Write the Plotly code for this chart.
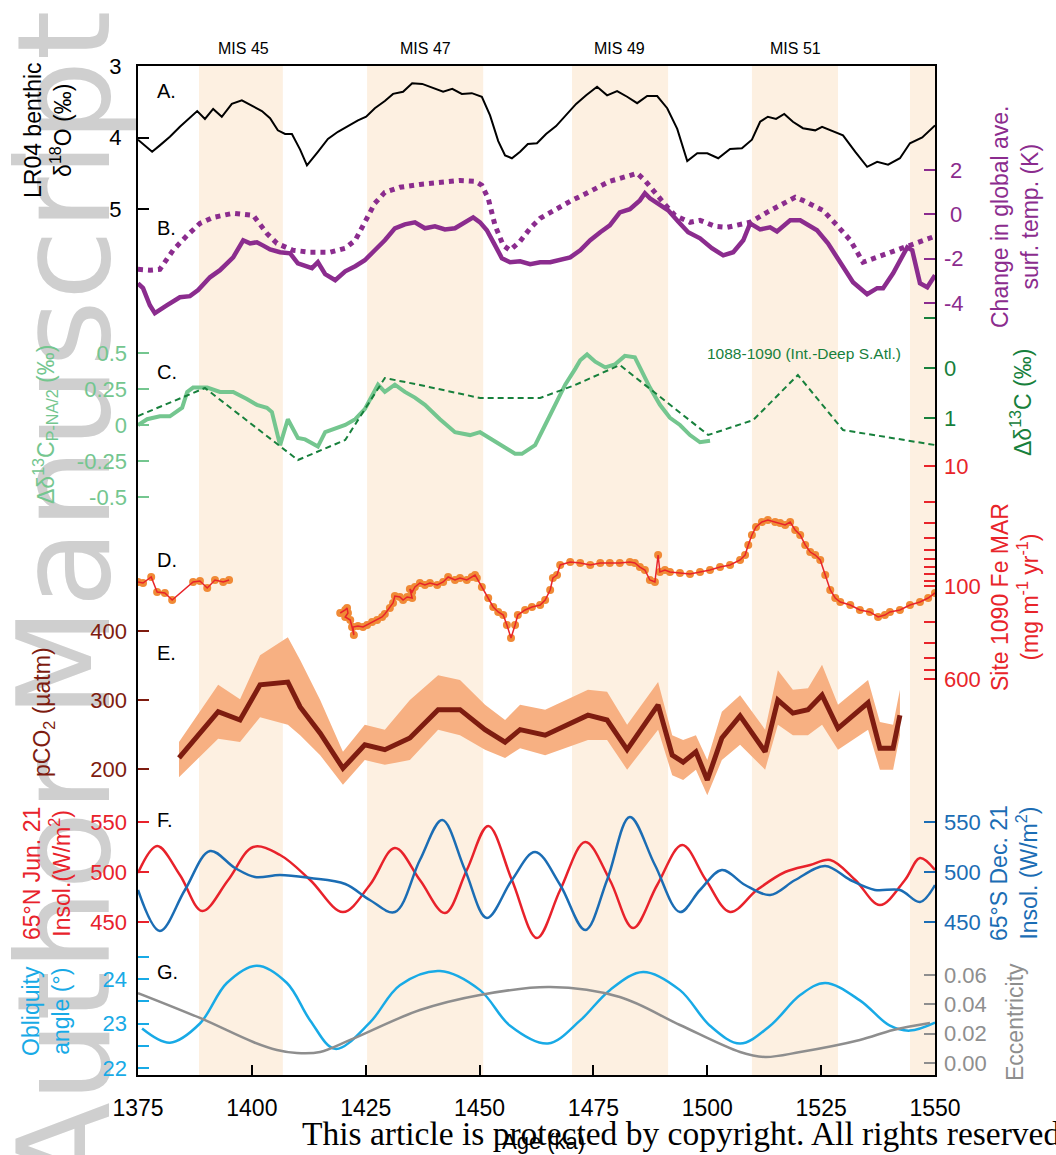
import plotly.graph_objects as go

SANS = "Liberation Sans, Arial, sans-serif"
SERIF = "Liberation Serif, Times New Roman, serif"

# ---------------- data ----------------
age_ticks = [1375, 1400, 1425, 1450, 1475, 1500, 1525, 1550]

# interglacial stages (ka)
mis_start = [1388.4, 1425.3, 1470.3, 1509.8, 1544.5]
mis_end = [1406.8, 1450.8, 1491.4, 1528.7, 1550.0]
mis_names = ["MIS 45", "MIS 47", "MIS 49", "MIS 51"]
mis_name_age = [1398.1, 1438.2, 1480.8, 1519.3]

# A. LR04 benthic d18O (permil)
lr04_age = [1375.0, 1378.1, 1379.8, 1382.0, 1384.2, 1386.4, 1388.0, 1389.7, 1391.5, 1393.4,
            1395.6, 1397.8, 1400.0, 1402.2, 1404.0, 1405.7, 1407.3, 1408.8, 1410.6, 1412.1,
            1414.5, 1416.7, 1418.9, 1421.1, 1423.3, 1425.1, 1427.0, 1429.2, 1431.0, 1433.2,
            1435.2, 1437.4, 1439.8, 1442.0, 1444.0, 1446.1, 1448.3, 1450.5, 1452.3, 1454.1,
            1455.6, 1457.1, 1458.9, 1460.6, 1462.6, 1464.6, 1466.8, 1469.0, 1471.2, 1473.4,
            1475.8, 1478.0, 1480.2, 1482.4, 1484.6, 1486.8, 1489.0, 1491.2, 1493.4, 1495.6,
            1497.8, 1500.0, 1502.4, 1505.0, 1507.6, 1509.8, 1511.6, 1513.3, 1515.1, 1516.9,
            1518.8, 1521.0, 1523.7, 1525.2, 1527.0, 1529.8, 1532.5, 1535.1, 1537.3, 1539.7,
            1542.3, 1544.5, 1547.2, 1550.0]
lr04_d18o = [4.03, 4.20, 4.11, 3.99, 3.85, 3.73, 3.63, 3.74, 3.60, 3.71,
             3.53, 3.48, 3.55, 3.63, 3.73, 3.90, 3.95, 3.95, 4.17, 4.39,
             4.20, 4.02, 3.92, 3.84, 3.76, 3.71, 3.59, 3.49, 3.39, 3.36,
             3.24, 3.25, 3.31, 3.36, 3.32, 3.39, 3.38, 3.43, 3.69, 4.05,
             4.25, 4.29, 4.20, 4.09, 4.08, 3.95, 3.84, 3.69, 3.53, 3.41,
             3.29, 3.41, 3.35, 3.43, 3.52, 3.42, 3.42, 3.59, 3.88, 4.33,
             4.22, 4.22, 4.29, 4.16, 4.15, 4.03, 3.78, 3.71, 3.74, 3.67,
             3.78, 3.87, 3.90, 3.85, 3.90, 3.97, 4.20, 4.41, 4.34, 4.38,
             4.29, 4.08, 4.00, 3.83]

# B. change in global average surface temperature (K)
gst_age = [1375.0, 1376.1, 1377.6, 1378.7, 1381.4, 1384.2, 1386.4, 1388.2, 1390.8, 1393.0,
           1395.9, 1398.1, 1399.6, 1401.1, 1402.4, 1404.0, 1406.2, 1408.4, 1410.1, 1411.7,
           1413.2, 1414.5, 1416.1, 1418.3, 1420.5, 1422.7, 1424.8, 1427.0, 1429.2, 1431.4,
           1433.6, 1435.8, 1438.0, 1440.2, 1442.4, 1444.6, 1446.8, 1448.6, 1450.1, 1451.6,
           1453.4, 1454.9, 1456.7, 1458.9, 1461.1, 1463.3, 1465.5, 1467.7, 1469.9, 1472.1,
           1474.3, 1476.5, 1478.6, 1480.8, 1483.0, 1485.2, 1486.3, 1487.4, 1489.6, 1491.4,
           1493.6, 1495.8, 1498.4, 1501.0, 1503.5, 1505.7, 1507.9, 1509.4, 1511.6, 1513.8,
           1515.3, 1518.2, 1520.4, 1522.1, 1524.1, 1526.5, 1529.2, 1532.0, 1535.1, 1537.3,
           1538.6, 1540.8, 1543.9, 1545.0, 1546.7, 1548.3, 1550.0]
gst_k = [-3.11, -3.33, -4.10, -4.46, -4.10, -3.74, -3.69, -3.42, -2.84, -2.52,
         -1.94, -1.17, -1.31, -1.26, -1.40, -1.58, -1.71, -1.76, -2.21, -2.30,
         -2.43, -2.16, -2.70, -2.97, -2.57, -2.34, -2.07, -1.62, -1.17, -0.63,
         -0.45, -0.36, -0.63, -0.54, -0.68, -0.63, -0.36, -0.14, -0.36, -0.72,
         -1.40, -1.98, -2.16, -2.12, -2.25, -2.16, -2.16, -2.07, -1.94, -1.62,
         -1.17, -0.81, -0.50, 0.09, 0.23, 0.63, 0.95, 0.72, 0.45, 0.18,
         -0.32, -0.81, -1.08, -1.53, -1.85, -1.71, -1.17, -0.41, -0.68, -0.59,
         -0.77, -0.27, -0.27, -0.50, -0.72, -1.31, -2.21, -3.06, -3.60, -3.33,
         -3.33, -2.66, -1.49, -1.62, -3.11, -3.29, -2.75]

gst2_age = [1375.0, 1377.6, 1379.8, 1382.7, 1385.8, 1388.6, 1391.5, 1395.9, 1400.3, 1401.8,
            1403.3, 1405.5, 1409.0, 1412.8, 1417.2, 1420.5, 1422.7, 1424.8, 1427.0, 1429.2,
            1432.5, 1436.9, 1441.3, 1445.7, 1449.0, 1450.5, 1451.9, 1453.4, 1455.2, 1456.7,
            1458.9, 1461.1, 1463.3, 1465.5, 1467.7, 1469.9, 1472.1, 1474.3, 1476.5, 1478.6,
            1480.8, 1483.0, 1484.6, 1486.3, 1488.5, 1490.7, 1492.9, 1496.2, 1498.4, 1501.7,
            1504.3, 1509.4, 1513.1, 1519.3, 1521.0, 1525.4, 1528.5, 1531.4, 1534.2, 1537.3,
            1542.3, 1546.1, 1550.0]
gst2_k = [-2.48, -2.52, -2.48, -1.62, -0.95, -0.41, -0.14, 0.05, -0.05, -0.50,
          -0.86, -1.31, -1.62, -1.71, -1.71, -1.53, -1.17, -0.36, 0.50, 0.99,
          1.22, 1.35, 1.44, 1.53, 1.49, 1.31, 0.72, -0.50, -1.40, -1.62,
          -1.22, -0.63, -0.18, 0.09, 0.36, 0.59, 0.81, 1.04, 1.26, 1.49,
          1.62, 1.76, 1.85, 1.53, 0.95, 0.45, -0.05, -0.36, -0.27, -0.54,
          -0.59, -0.36, 0.09, 0.77, 0.63, 0.18, -0.50, -1.17, -2.16, -1.94,
          -1.53, -1.31, -0.99]

# C. d13C gradients (permil)
dc_pna_age = [1375.0, 1377.0, 1379.8, 1382.0, 1384.7, 1385.8, 1387.1, 1390.2, 1393.0, 1395.9,
              1398.9, 1401.1, 1403.3, 1404.4, 1406.2, 1407.9, 1410.1, 1411.7, 1414.5, 1416.1,
              1420.5, 1422.7, 1424.8, 1427.7, 1429.2, 1431.4, 1433.6, 1435.8, 1438.0, 1441.3,
              1444.6, 1447.9, 1450.1, 1452.7, 1455.6, 1457.8, 1459.3, 1462.2, 1464.4, 1466.6,
              1468.8, 1471.0, 1472.1, 1473.6, 1475.4, 1477.6, 1479.7, 1481.9, 1484.1, 1485.2,
              1487.4, 1489.6, 1491.8, 1494.0, 1496.2, 1498.4, 1500.6]
dc_pna = [0.00, 0.04, 0.06, 0.06, 0.12, 0.23, 0.26, 0.26, 0.23, 0.23,
          0.18, 0.14, 0.12, 0.09, -0.14, 0.04, -0.09, -0.10, -0.15, -0.05,
          0.00, 0.04, 0.11, 0.28, 0.23, 0.28, 0.23, 0.19, 0.14, 0.04,
          -0.05, -0.07, -0.05, -0.10, -0.16, -0.20, -0.20, -0.14, 0.00, 0.14,
          0.28, 0.39, 0.45, 0.49, 0.44, 0.40, 0.42, 0.48, 0.47, 0.40,
          0.26, 0.14, 0.05, 0.00, -0.07, -0.12, -0.11]

dc_satl_age = [1375.0, 1389.7, 1410.1, 1420.5, 1429.2, 1436.9, 1450.1, 1463.3, 1471.0, 1480.8,
               1500.2, 1510.1, 1519.9, 1529.8, 1550.0]
dc_satl = [0.96, 0.40, 1.84, 1.44, 0.20, 0.34, 0.60, 0.60, 0.34, -0.06,
           1.34, 1.04, 0.14, 1.24, 1.54]

# D. Site 1090 Fe mass accumulation rate
fe1_age = [1375.0, 1376.1, 1377.9, 1379.2, 1380.9, 1382.5, 1387.1, 1388.6, 1390.2, 1391.9,
           1393.7, 1395.0]
fe1_mar = [92.6, 94.4, 84.1, 112.2, 114.3, 130.8, 92.6, 90.8, 103.9, 89.1,
           92.6, 89.1]
fe2_age = [1419.4, 1420.5, 1420.9, 1421.1, 1420.5, 1421.6, 1422.0, 1422.4, 1422.2, 1423.3,
           1424.4, 1425.3, 1426.4, 1427.5, 1428.6, 1429.2, 1430.3, 1431.0, 1431.4, 1432.5,
           1433.2, 1434.1, 1435.2, 1434.7, 1435.2, 1435.8, 1436.9, 1438.0, 1439.1, 1440.7,
           1442.0, 1443.1, 1444.6, 1445.7, 1447.2, 1448.3, 1449.0, 1449.4, 1450.5, 1451.9,
           1453.0, 1454.1, 1455.2, 1456.0, 1456.9, 1457.8, 1458.4, 1460.0, 1461.5, 1463.3,
           1464.4, 1465.5, 1466.1, 1467.0, 1467.7, 1469.9, 1472.1, 1474.3, 1476.5, 1478.6,
           1480.8, 1483.0, 1484.1, 1485.2, 1486.3, 1487.4, 1488.5, 1489.2, 1489.6, 1490.7,
           1491.8, 1494.0, 1496.2, 1498.4, 1500.6, 1502.8, 1505.0, 1507.2, 1508.3, 1509.0,
           1509.8, 1510.7, 1512.0, 1513.3, 1514.9, 1516.0, 1517.1, 1518.2, 1519.3, 1520.4,
           1521.5, 1522.6, 1523.7, 1524.8, 1525.9, 1527.0, 1528.1, 1529.2, 1531.4, 1533.5,
           1535.7, 1537.5, 1539.0, 1540.1, 1542.3, 1544.5, 1546.7, 1548.5, 1550.0]
fe2_mar = [167.9, 158.5, 152.5, 167.9, 181.3, 192.1, 219.6, 256.0, 219.6, 215.4,
           219.6, 211.3, 199.5, 192.1, 181.3, 171.1, 152.5, 138.6, 121.2, 123.5,
           130.8, 123.5, 125.9, 105.9, 112.2, 101.9, 94.4, 98.1, 94.4, 98.1,
           92.6, 84.1, 89.1, 85.8, 89.1, 84.1, 81.0, 85.8, 101.9, 125.9,
           149.6, 164.6, 174.5, 211.3, 271.2, 211.3, 174.5, 158.5, 149.6, 144.0,
           130.8, 108.0, 85.8, 81.0, 66.8, 63.1, 64.3, 66.8, 64.3, 64.3,
           64.3, 63.1, 64.3, 69.5, 73.6, 89.1, 92.6, 55.2, 76.4, 73.6,
           76.4, 77.9, 79.4, 76.4, 73.6, 69.5, 66.8, 60.7, 55.2, 45.5,
           37.6, 32.2, 29.3, 28.2, 29.3, 29.9, 31.0, 29.3, 34.1, 37.6,
           45.5, 52.1, 55.2, 60.7, 81.0, 108.0, 125.9, 135.9, 144.0, 158.5,
           164.6, 181.3, 174.5, 164.6, 158.5, 144.0, 135.9, 125.9, 114.3]

# E. pCO2 (uatm) with uncertainty envelope
co2_age = [1384.0, 1392.6, 1397.4, 1401.8, 1407.9, 1410.6, 1415.0, 1420.0, 1424.8, 1429.2,
           1434.7, 1440.9, 1445.7, 1451.2, 1455.6, 1458.9, 1464.4, 1473.8, 1478.0, 1482.4,
           1489.2, 1492.3, 1494.7, 1497.5, 1500.0, 1503.2, 1507.2, 1512.7, 1515.5, 1518.8,
           1522.1, 1525.2, 1528.7, 1535.3, 1537.9, 1540.8, 1542.3]
co2_mid = [216, 283, 271, 322, 326, 290, 252, 201, 235, 228,
           245, 286, 286, 257, 239, 257, 249, 278, 271, 228,
           293, 220, 210, 225, 184, 245, 277, 225, 300, 281,
           286, 307, 259, 296, 230, 230, 278]
co2_hi = [239, 322, 301, 365, 391, 358, 300, 225, 264, 257,
          300, 336, 329, 293, 271, 293, 286, 315, 312, 264,
          326, 249, 242, 249, 213, 283, 307, 257, 343, 315,
          317, 351, 293, 329, 268, 264, 315]
co2_lo = [188, 244, 239, 275, 264, 249, 220, 177, 213, 206,
          213, 257, 249, 228, 216, 230, 220, 242, 242, 199,
          257, 191, 184, 199, 162, 213, 235, 199, 264, 249,
          249, 264, 228, 257, 199, 199, 249]

# F. summer insolation (W/m2)
ins_n_age = [1375.0, 1379.2, 1384.2, 1389.1, 1394.8, 1400.3, 1406.2, 1412.8, 1420.0, 1425.9,
             1431.4, 1436.9, 1442.4, 1447.2, 1451.9, 1457.1, 1462.6, 1467.7, 1473.2, 1478.6,
             1483.7, 1489.0, 1494.5, 1499.7, 1505.0, 1510.9, 1517.1, 1522.6, 1527.0, 1532.5,
             1537.9, 1543.4, 1546.7, 1550.0]
ins_n = [499, 526, 497, 461, 492, 525, 517, 492, 460, 487,
         524, 492, 459, 502, 546, 492, 434, 482, 530, 492,
         444, 487, 527, 492, 460, 482, 500, 507, 512, 492,
         467, 492, 514, 502]
ins_s_age = [1375.0, 1379.8, 1385.3, 1390.8, 1396.3, 1400.7, 1406.2, 1412.8, 1420.5, 1425.9,
             1431.4, 1436.9, 1441.8, 1446.8, 1451.6, 1457.1, 1462.2, 1467.7, 1473.2, 1478.0,
             1483.0, 1488.5, 1494.0, 1498.4, 1503.2, 1508.3, 1513.8, 1519.3, 1525.9, 1531.4,
             1536.8, 1542.3, 1546.7, 1550.0]
ins_s = [482, 441, 482, 521, 504, 495, 497, 494, 488, 472,
         460, 512, 552, 502, 454, 492, 520, 487, 442, 492,
         555, 507, 460, 482, 502, 487, 477, 492, 506, 492,
         482, 482, 470, 487]

# G. orbital parameters
obl_age = [1375.9, 1382.0, 1388.6, 1394.5, 1401.1, 1407.7, 1412.8, 1418.3, 1425.9, 1432.5,
           1441.3, 1450.1, 1456.7, 1465.0, 1472.1, 1478.6, 1485.9, 1494.0, 1500.6, 1507.2,
           1513.8, 1520.4, 1525.9, 1533.5, 1540.1, 1544.5, 1550.0]
obl_deg = [22.89, 22.57, 23.00, 23.91, 24.30, 23.91, 23.07, 22.43, 23.02, 23.86,
           24.18, 23.75, 22.95, 22.55, 23.07, 23.75, 24.16, 23.75, 22.95, 22.55,
           22.95, 23.64, 23.91, 23.52, 22.95, 22.84, 23.02]
ecc_age = [1375.0, 1388.6, 1400.3, 1405.5, 1409.9, 1415.0, 1421.6, 1436.9, 1450.1, 1465.5,
           1480.8, 1494.0, 1507.2, 1512.7, 1520.4, 1533.5, 1540.8, 1548.9]
ecc = [0.0477, 0.0307, 0.0143, 0.0089, 0.0068, 0.0075, 0.0157, 0.0361, 0.0464, 0.0518,
       0.0450, 0.0259, 0.0075, 0.0041, 0.0075, 0.0157, 0.0225, 0.0273]

# ---------------- colours ----------------
C_PURPLE = "#8B2C8E"
C_LGREEN = "#74C68F"
C_DGREEN = "#17803C"
C_FE_RED = "#E8242A"
C_FE_DOT = "#F08A36"
C_CO2 = "#7E1C10"
C_CO2_BAND = "#F7B082"
C_INS_N = "#E8222B"
C_INS_S = "#1B6DB4"
C_OBL = "#18AAE6"
C_ECC = "#8E8E8E"
C_BAND = "#FDF0E1"

# ---------------- page geometry ----------------
W, H = 1056, 1155
ML, MR, MT, MB = 138, 121, 66, 80
PW, PH = W - ML - MR, H - MT - MB


def px(x):
    return (x - ML) / PW


def py(y):
    return (H - MB - y) / PH


def span(v1, p1, v2, p2):
    """Axis range so that value v1 sits at pixel row p1 and v2 at p2."""
    k = (v2 - v1) / (p2 - p1)
    return [v1 + k * (H - MB - p1), v1 + k * (MT - p1)]


fig = go.Figure()

# A
fig.add_trace(go.Scatter(x=lr04_age, y=lr04_d18o, yaxis="y", mode="lines",
                         line=dict(color="black", width=2)))
# B
fig.add_trace(go.Scatter(x=gst2_age, y=gst2_k, yaxis="y2", mode="lines",
                         line=dict(color=C_PURPLE, width=5, dash="5px,5px")))
fig.add_trace(go.Scatter(x=gst_age, y=gst_k, yaxis="y2", mode="lines",
                         line=dict(color=C_PURPLE, width=4.5)))
# C
fig.add_trace(go.Scatter(x=dc_satl_age, y=dc_satl, yaxis="y4", mode="lines",
                         line=dict(color=C_DGREEN, width=2, dash="6px,4px")))
fig.add_trace(go.Scatter(x=dc_pna_age, y=dc_pna, yaxis="y3", mode="lines",
                         line=dict(color=C_LGREEN, width=4)))
# D
for a, v in ((fe1_age, fe1_mar), (fe2_age, fe2_mar)):
    fig.add_trace(go.Scatter(x=a, y=v, yaxis="y5", mode="markers",
                             marker=dict(color=C_FE_DOT, size=8, line=dict(width=0))))
    fig.add_trace(go.Scatter(x=a, y=v, yaxis="y5", mode="lines",
                             line=dict(color=C_FE_RED, width=1.5)))
# E
fig.add_trace(go.Scatter(x=co2_age + co2_age[::-1], y=co2_hi + co2_lo[::-1], yaxis="y6",
                         mode="lines", fill="toself", fillcolor=C_CO2_BAND,
                         line=dict(width=0, color=C_CO2_BAND)))
fig.add_trace(go.Scatter(x=co2_age, y=co2_mid, yaxis="y6", mode="lines",
                         line=dict(color=C_CO2, width=5)))
# F
fig.add_trace(go.Scatter(x=ins_s_age, y=ins_s, yaxis="y8", mode="lines",
                         line=dict(color=C_INS_S, width=2.5, shape="spline", smoothing=1.0)))
fig.add_trace(go.Scatter(x=ins_n_age, y=ins_n, yaxis="y7", mode="lines",
                         line=dict(color=C_INS_N, width=2.5, shape="spline", smoothing=1.0)))
# G
fig.add_trace(go.Scatter(x=ecc_age, y=ecc, yaxis="y10", mode="lines",
                         line=dict(color=C_ECC, width=2.5, shape="spline", smoothing=1.0)))
fig.add_trace(go.Scatter(x=obl_age, y=obl_deg, yaxis="y9", mode="lines",
                         line=dict(color=C_OBL, width=2.5, shape="spline", smoothing=1.0)))


def yaxis(rng, side, color, vals, text, main=False, log=False):
    d = dict(range=rng, side=side, anchor="x", showgrid=False, zeroline=False,
             ticks="inside", ticklen=11, tickwidth=2, tickcolor=color,
             tickmode="array", tickvals=vals, ticktext=text,
             ticklabelstandoff=10 if side == "left" else 8,
             tickfont=dict(family=SANS, size=22, color=color), fixedrange=True)
    if log:
        d["type"] = "log"
    if main:
        d.update(showline=True, mirror=True, linecolor="black", linewidth=2)
    else:
        d.update(showline=False, overlaying="y")
    return d


fe_ticks = [10, 20, 30, 40, 50, 60, 70, 80, 90, 100, 200, 300, 400, 500, 600]
fe_text = ["10"] + [""] * 8 + ["100"] + [""] * 4 + ["600"]

fig.update_layout(
    width=W, height=H, margin=dict(l=ML, r=MR, t=MT, b=MB),
    paper_bgcolor="white", plot_bgcolor="white", showlegend=False,
    font=dict(family=SANS, color="black"),
    xaxis=dict(range=[1375, 1550], tickmode="array", tickvals=age_ticks,
               ticktext=[str(t) for t in age_ticks], ticks="inside", ticklen=10,
               tickwidth=2, tickcolor="black", showline=True, mirror=True,
               linecolor="black", linewidth=2, showgrid=False, zeroline=False,
               ticklabelstandoff=11,
               tickfont=dict(family=SANS, size=23, color="black"), fixedrange=True),
    yaxis=yaxis(span(3, 66, 5, 209), "left", "black", [3, 4, 5], ["3", "4", "5"], main=True),
    yaxis2=yaxis(span(2, 170, -4, 303), "right", C_PURPLE, [2, 0, -2, -4],
                 ["\u00a02", "\u00a00", "-2", "-4"]),
    yaxis3=yaxis(span(0.5, 353, -0.5, 497), "left", C_LGREEN, [0.5, 0.25, 0, -0.25, -0.5],
                 ["0.5", "0.25", "0", "-0.25", "-0.5"]),
    yaxis4=yaxis(span(0, 368, 1, 418), "right", C_DGREEN, [-1, 0, 1], ["", "0", "1"]),
    yaxis5=yaxis(span(1, 466, 2, 586), "right", C_FE_RED, fe_ticks, fe_text, log=True),
    yaxis6=yaxis(span(400, 631, 200, 769), "left", C_CO2, [200, 300, 400], ["200", "300", "400"]),
    yaxis7=yaxis(span(550, 822, 450, 922), "left", C_INS_N, [450, 500, 550], ["450", "500", "550"]),
    yaxis8=yaxis(span(550, 822, 450, 922), "right", C_INS_S, [450, 500, 550], ["450", "500", "550"]),
    yaxis9=yaxis(span(24, 979, 22, 1068), "left", C_OBL, [22, 22.5, 23, 23.5, 24, 24.5],
                 ["22", "", "23", "", "24", ""]),
    yaxis10=yaxis(span(0.06, 975, 0.0, 1063), "right", C_ECC, [0, 0.02, 0.04, 0.06],
                  ["0.00", "0.02", "0.04", "0.06"]),
)

# interglacial shading
shapes = []
for s, e in zip(mis_start, mis_end):
    shapes.append(dict(type="rect", xref="x", yref="paper", x0=s, x1=e, y0=0, y1=1,
                       fillcolor=C_BAND, line=dict(width=0), layer="below"))
# manuscript watermark, kept underneath the axes
shapes.append(dict(type="rect", xref="paper", yref="paper", x0=px(-5), x1=px(115),
                   y0=py(1200), y1=py(0), line=dict(width=0),
                   fillcolor="rgba(0,0,0,0)", layer="below",
                   label=dict(text="Author Manuscript", textangle=-90,
                              textposition="middle center",
                              font=dict(family="DejaVu Sans, Liberation Sans, sans-serif",
                                        size=128, color="#CFCFCF"))))
fig.update_layout(shapes=shapes)

ann = []


def note(text, x, y, color="black", size=23, angle=0, xanchor="center", yanchor="middle",
         family=SANS, xref="paper"):
    ann.append(dict(text=text, x=x, y=y, xref=xref, yref="paper", showarrow=False,
                    textangle=angle, xanchor=xanchor, yanchor=yanchor,
                    font=dict(family=family, size=size, color=color)))


for name, a in zip(mis_names, mis_name_age):
    note(name, a, py(48), size=16, xref="x")

for letter, yy in zip("ABCDEFG", [91, 228, 372, 560, 653, 820, 972]):
    note(letter + ".", px(155), py(yy), size=20, xanchor="left")

note("LR04 benthic<br>δ<sup>18</sup>O (‰)", px(48), py(130), angle=-90)
note("Change in global ave.<br>surf. temp. (K)", px(1015), py(216), color=C_PURPLE, angle=-90)
note("Δδ<sup>13</sup>C<sub>P-NA/2</sub> (‰)", px(45), py(425), color=C_LGREEN, angle=-90)
note("Δδ<sup>13</sup>C (‰)", px(1021), py(403), color=C_DGREEN, angle=-90)
note("1088-1090 (Int.-Deep S.Atl.)", px(705), py(353), color=C_DGREEN, size=15.5,
     xanchor="left")
note("Site 1090 Fe MAR<br>(mg m<sup>-1</sup> yr<sup>-1</sup>)", px(1015), py(597),
     color=C_FE_RED, angle=-90)
note("pCO<sub>2</sub> (µatm)", px(43), py(712), color=C_CO2, angle=-90)
note("65°N Jun. 21<br>Insol.(W/m<sup>2</sup>)", px(47), py(874), color=C_INS_N, angle=-90)
note("65°S Dec. 21<br>Insol. (W/m<sup>2</sup>)", px(1014), py(873), color=C_INS_S, angle=-90)
note("Obliquity<br>angle (°)", px(46), py(1011), color=C_OBL, angle=-90)
note("Eccentricity", px(1015), py(1022), color=C_ECC, angle=-90)
note("This article is protected by copyright. All rights reserved.", px(300), py(1133),
     size=33.5, xanchor="left", family=SERIF)
note("Age (ka)", px(543), py(1141), size=22)

fig.update_layout(annotations=ann)
fig.write_html("out.html")
